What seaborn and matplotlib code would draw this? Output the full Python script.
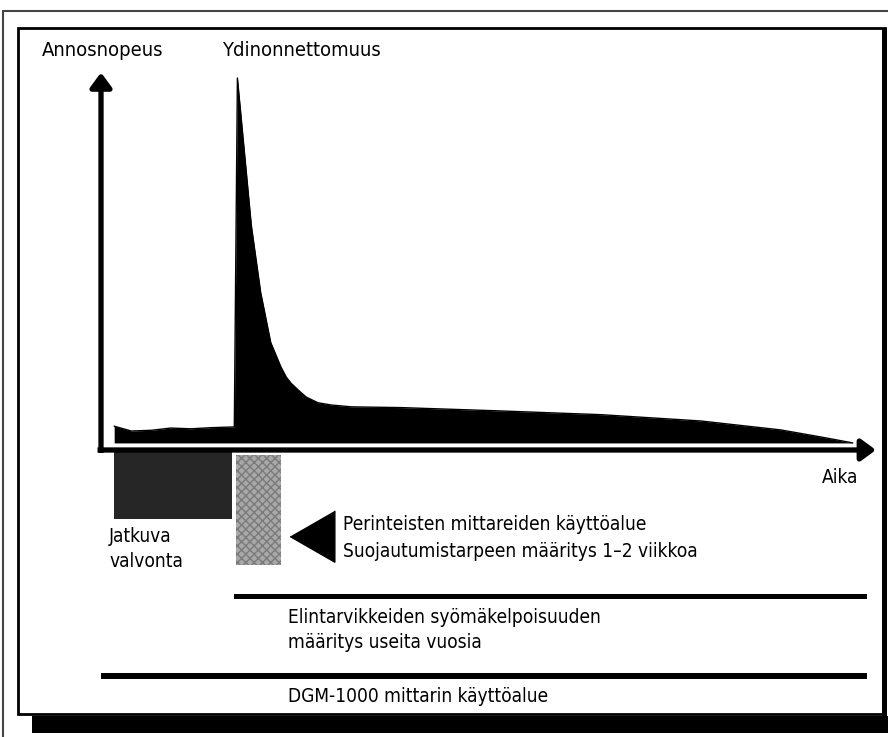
import matplotlib
matplotlib.use("Agg")
import matplotlib.pyplot as plt
import matplotlib.transforms as mtransforms
from matplotlib import font_manager
from matplotlib.patches import Rectangle
import seaborn as sns
import pandas as pd

# dose rate curve (time and dose in arbitrary units)
time = [1.7, 3.9, 6.5, 9.0, 11.6, 14.2, 17.2, 17.6, 19.4, 20.6, 21.9, 23.2,
        23.9, 24.5, 25.4, 26.5, 28.0, 29.7, 32.3, 38.7, 51.6, 64.5, 77.4,
        87.7, 92.9, 97.0]
dose = [6.4, 5.1, 5.3, 5.9, 5.7, 6.0, 6.2, 100.0, 60.3, 42.4, 28.9, 22.4,
        19.6, 18.0, 16.2, 14.2, 12.7, 12.1, 11.6, 11.4, 10.5, 9.5, 7.8,
        5.4, 3.5, 1.9]
floor = 1.9

# time ranges of the different measuring methods
range_names = ["Jatkuva valvonta", "Perinteiset mittarit",
               "Elintarvikkeet", "DGM-1000"]
range_start = [1.7, 17.4, 17.2, 0.0]
range_end = [16.9, 23.2, 98.8, 98.8]

curve = pd.DataFrame({"aika": time, "annosnopeus": dose})
ranges = pd.DataFrame({"nimi": range_names, "alku": range_start, "loppu": range_end})

sns.set_theme(style="white")

# the original uses a condensed grotesque; take a narrow face if there is one
names = {f.name for f in font_manager.fontManager.ttflist}
cond = font_manager.findfont(font_manager.FontProperties(family="DejaVu Sans",
                                                         stretch="condensed"))
if "Liberation Sans Narrow" in names:
    plt.rcParams["font.family"] = ["Liberation Sans Narrow", "DejaVu Sans"]
    fs = 16
elif "Condensed" in cond:
    plt.rcParams["font.family"] = ["DejaVu Sans"]
    plt.rcParams["font.stretch"] = "condensed"
    fs = 13.7
else:
    plt.rcParams["font.family"] = ["Liberation Sans", "DejaVu Sans"]
    fs = 13.7

W, H = 888, 737
fig = plt.figure(figsize=(W / 100, H / 100), dpi=100)
ax = fig.add_axes([0, 0, 1, 1])
# origin of the chart at pixel (101, 450), 7.75 px per time unit, 3.72 px per dose unit
ax.set_xlim(-101 / 7.75, (W - 101) / 7.75)
ax.set_ylim(-(H - 450) / 3.72, 450 / 3.72)
ax.axis("off")

# pixel transform (origin top-left) for frame and labels
pix = mtransforms.Affine2D().scale(1 / W, -1 / H).translate(0, 1) + fig.transFigure

# frames
ax.plot([3, W], [11, 11], color="#444444", lw=1.5, transform=pix)
ax.plot([3, 3], [11, H], color="#444444", lw=1.5, transform=pix)
ax.add_patch(Rectangle((18, 28), 867, 686, fill=False, ec="black", lw=2, transform=pix))
ax.add_patch(Rectangle((882, 28), 5, 690, color="black", lw=0, transform=pix))
ax.add_patch(Rectangle((32, 716), W - 32, 17, color="black", lw=0, transform=pix))

# curve
ax.fill_between(curve["aika"], floor, curve["annosnopeus"], color="black", lw=0)
sns.lineplot(data=curve, x="aika", y="annosnopeus", color="black", lw=1,
             sort=False, ax=ax, legend=False)

# axes with arrows
arrow = dict(arrowstyle="-|>,head_length=0.26,head_width=0.19", lw=3.8,
             mutation_scale=34, color="black", shrinkA=0, shrinkB=0,
             capstyle="butt")
ax.annotate("", xy=(0, 101.5), xytext=(0, -0.8), arrowprops=arrow)
ax.annotate("", xy=(100, 0), xytext=(-0.45, 0), arrowprops=arrow)

# range bars
bar_y = [-9.5, -16.1, -39.5, -60.75]
bar_h = [18.0, 29.6, 1.35, 1.6]
bar_fc = ["#262626", "#a8a8a8", "black", "black"]
for i, row in ranges.iterrows():
    b = ax.barh(bar_y[i], row["loppu"] - row["alku"], left=row["alku"],
                height=bar_h[i], color=bar_fc[i], lw=0)
    if i == 1:
        b[0].set_hatch("xxxx")
        b[0].set_edgecolor("#7a7a7a")

# pointer triangle
ax.plot([27.2], [-23.1], marker=[(-0.87, 0), (0.87, -1), (0.87, 1)],
        markersize=37, color="black", lw=0)

labels = [
    ("Annosnopeus", 42, 50, fs * 1.06),
    ("Ydinonnettomuus", 222, 50, fs * 1.06),
    ("Aika", 822, 478, fs),
    ("Jatkuva", 109, 537, fs),
    ("valvonta", 109, 562, fs),
    ("Perinteisten mittareiden käyttöalue", 343, 525, fs),
    ("Suojautumistarpeen määritys 1–2 viikkoa", 343, 552, fs),
    ("Elintarvikkeiden syömäkelpoisuuden", 288, 618, fs),
    ("määritys useita vuosia", 288, 643, fs),
    ("DGM-1000 mittarin käyttöalue", 288, 697, fs),
]
for txt, x, y, size in labels:
    ax.text(x, y, txt, transform=pix, ha="left", va="center", fontsize=size,
            color="black")

fig.savefig("out.png", dpi=100)
